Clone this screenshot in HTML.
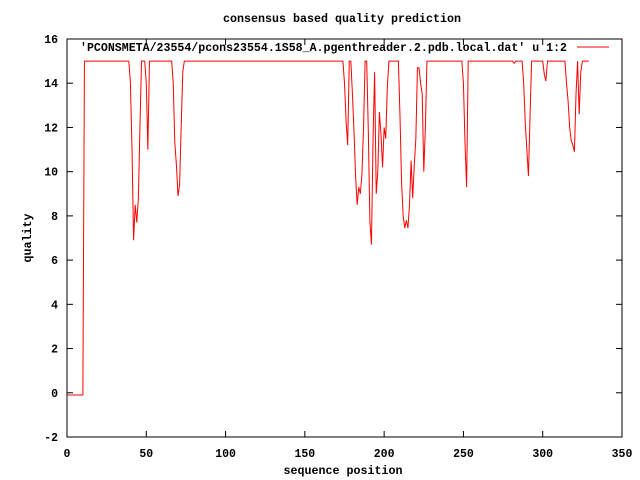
<!DOCTYPE html>
<html><head><meta charset="utf-8"><style>
html,body{margin:0;padding:0;background:#fff;}
svg{display:block;font-family:"Liberation Mono",monospace;font-size:11.5px;font-weight:bold;}
</style></head><body>
<svg id="chart" width="640" height="480" viewBox="0 0 640 480" xmlns="http://www.w3.org/2000/svg">
<rect width="640" height="480" fill="#fff"/>
<text x="342" y="22" text-anchor="middle" textLength="238" lengthAdjust="spacingAndGlyphs">consensus based quality prediction</text>
<text x="343" y="474" text-anchor="middle" textLength="119" lengthAdjust="spacingAndGlyphs">sequence position</text>
<text transform="translate(31,238) rotate(-90)" text-anchor="middle" textLength="49" lengthAdjust="spacingAndGlyphs">quality</text>
<g id="axes"></g>
<rect x="67" y="39" width="555" height="398" fill="none" stroke="#000" stroke-width="1"/>
<text x="567" y="51" text-anchor="end" textLength="487" lengthAdjust="spacingAndGlyphs">'PCONSMETA/23554/pcons23554.1S58_A.pgenthreader.2.pdb.local.dat' u 1:2</text>
<line x1="577" y1="47" x2="609" y2="47" stroke="#f00" stroke-width="1"/>
<path id="series" fill="none" stroke="#f00" stroke-width="1"/>
</svg>
<script>
const xTicks = [0,50,100,150,200,250,300,350];
const yTicks = [-2,0,2,4,6,8,10,12,14,16];
const quality = [
-0.1,-0.1,-0.1,-0.1,-0.1,-0.1,-0.1,-0.1,-0.1,-0.1,
-0.1,15,15,15,15,15,15,15,15,15,
15,15,15,15,15,15,15,15,15,15,
15,15,15,15,15,15,15,15,15,15,
14,11,6.9,8.5,7.7,8.8,12,15,15,15,
14,11,15,15,15,15,15,15,15,15,
15,15,15,15,15,15,15,14,11.3,10.3,
8.9,9.4,12,14.5,15,15,15,15,15,15,
15,15,15,15,15,15,15,15,15,15,
15,15,15,15,15,15,15,15,15,15,
15,15,15,15,15,15,15,15,15,15,
15,15,15,15,15,15,15,15,15,15,
15,15,15,15,15,15,15,15,15,15,
15,15,15,15,15,15,15,15,15,15,
15,15,15,15,15,15,15,15,15,15,
15,15,15,15,15,15,15,15,15,15,
15,15,15,15,15,15,15,15,15,15,
15,15,15,15,15,14,12.3,11.2,15,15,
13.5,11.8,9.8,8.5,9.3,9.0,9.9,12,15,15,
11.9,7.8,6.7,11.5,14.5,9.0,10,12.7,11.7,10.2,
12,11.5,13.8,15,15,15,15,15,15,15,
12.5,9.5,8.0,7.45,7.8,7.45,8.5,10.5,8.8,10.3,
11.5,14.7,14.7,14,13.5,10,12,15,15,15,
15,15,15,15,15,15,15,15,15,15,
15,15,15,15,15,15,15,15,15,15,
14,11.3,9.3,15,15,15,15,15,15,15,
15,15,15,15,15,15,15,15,15,15,
15,15,15,15,15,15,15,15,15,15,
15,15,14.9,15,15,15,15,15,14,12.2,
11,9.8,12.5,15,15,15,15,15,15,15,
15,14.4,14.1,15,15,15,15,15,15,15,
15,15,15,15,15,14,13.2,12,11.4,11.2,
10.9,13.5,15,12.6,14.5,15,15,15,15,15
];
const X0=67,X1=622,Y0=437,Y1=39,XMIN=0,XMAX=350,YMIN=-2,YMAX=16;
function xs(v){return X0+(v-XMIN)/(XMAX-XMIN)*(X1-X0);}
function ys(v){return Y0-(v-YMIN)/(YMAX-YMIN)*(Y0-Y1);}
const NS="http://www.w3.org/2000/svg";
const axes=document.getElementById('axes');
function mk(tag,attrs){const e=document.createElementNS(NS,tag);for(const k in attrs)e.setAttribute(k,attrs[k]);return e;}
xTicks.forEach(t=>{
  const x=xs(t);
  const a=mk('line',{x1:x,y1:Y0,x2:x,y2:Y0-6,stroke:'#000'});
  
  
  axes.appendChild(a);
  const b=mk('line',{x1:x,y1:Y1,x2:x,y2:Y1+6,stroke:'#000'});
  
  
  axes.appendChild(b);
  const l=mk('text',{x:x,y:457,'text-anchor':'middle'});
  l.textContent=t;
  
  
  axes.appendChild(l);
});
yTicks.forEach(t=>{
  const y=ys(t);
  const a=mk('line',{x1:X0,y1:y,x2:X0+6,y2:y,stroke:'#000'});
  
  
  axes.appendChild(a);
  const b=mk('line',{x1:X1,y1:y,x2:X1-6,y2:y,stroke:'#000'});
  
  
  axes.appendChild(b);
  const l=mk('text',{x:58,y:y+4,'text-anchor':'end'});
  l.textContent=t;
  
  
  axes.appendChild(l);
});
let d='';
quality.forEach((v,i)=>{d+=(i?'L':'M')+xs(i).toFixed(2)+','+ys(v).toFixed(2);});
document.getElementById('series').setAttribute('d',d);
</script>
</body></html>
